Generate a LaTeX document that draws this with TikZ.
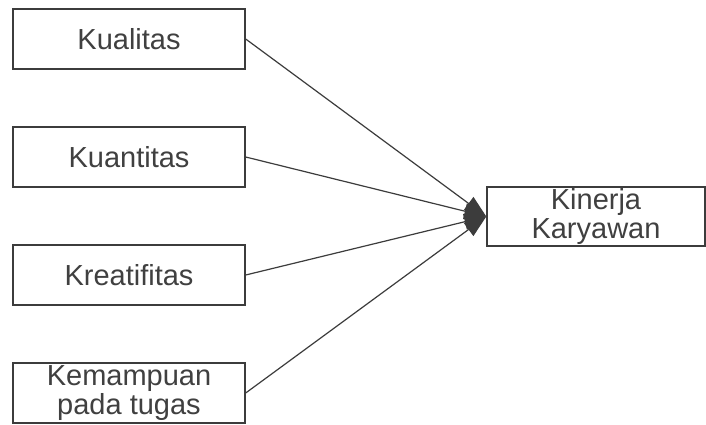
\documentclass[tikz,border=0pt]{standalone}
\usepackage{fontspec}
\setmainfont{Liberation Sans}
\usetikzlibrary{arrows.meta}
\definecolor{ink}{HTML}{3C3C3C}
\definecolor{txt}{HTML}{404040}
\begin{document}
\begin{tikzpicture}[x=1pt,y=1pt,
  box/.style={draw=ink, line width=1.4pt, inner sep=0pt, minimum width=232pt, minimum height=60pt,
    align=center, text=txt, font=\fontsize{29}{29}\selectfont},
  link/.style={draw=ink, line width=1.2pt, -{Triangle[length=22pt,width=16pt]}}]
\useasboundingbox[fill=white] (0,0) rectangle (706,424);
\node[box] (kual) at (129,385) {Kualitas};
\node[box] (kuan) at (129,267) {Kuantitas};
\node[box] (krea) at (129,149) {Kreatifitas};
\node[box] (kemp) at (129,31) {Kemampuan\\pada tugas};
\node[box, minimum width=218pt, minimum height=59pt] (kin) at (596,207.5) {Kinerja\\Karyawan};
\draw[link] (kual.east) -- (kin.west);
\draw[link] (kuan.east) -- (kin.west);
\draw[link] (krea.east) -- (kin.west);
\draw[link] (kemp.east) -- (kin.west);
\end{tikzpicture}
\end{document}
